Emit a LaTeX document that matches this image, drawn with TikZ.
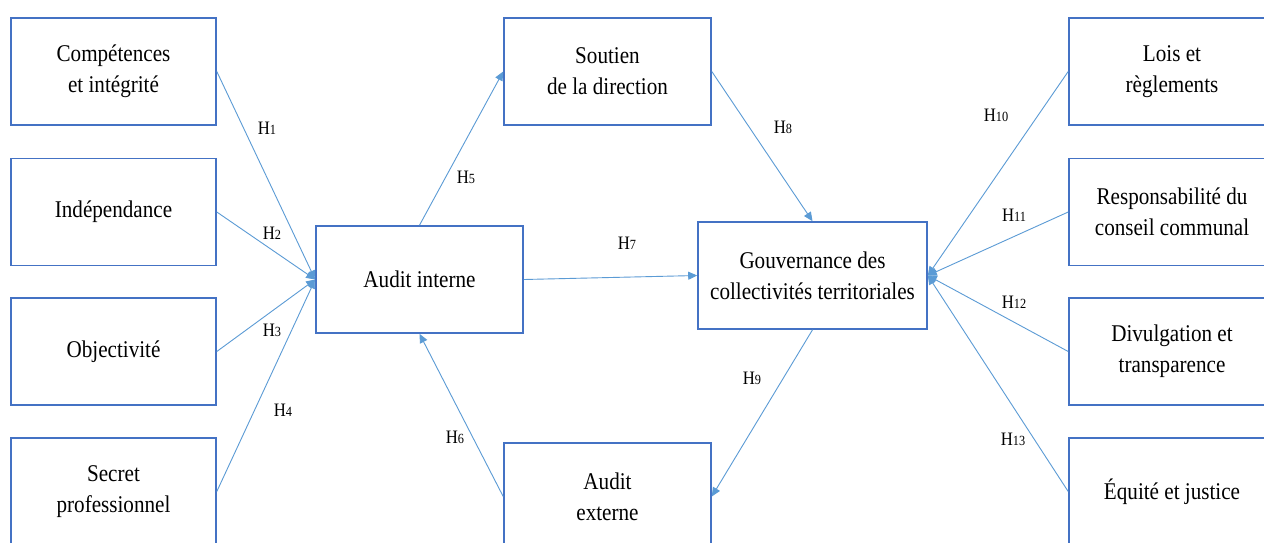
\documentclass[tikz,border=0pt]{standalone}
\usepackage{fontspec}
\setmainfont{Liberation Serif}[FakeStretch=0.88]
\usetikzlibrary{arrows.meta}
\definecolor{boxblue}{HTML}{4472C4}
\definecolor{lineblue}{HTML}{5B9BD5}
\newcommand{\hyp}[1]{H{\fontsize{14}{14}\selectfont #1}}
\tikzset{
  box/.style={draw=boxblue, line width=1.6pt, fill=white, rectangle, inner sep=0pt,
    align=center, font=\fontsize{24}{31}\selectfont},
  lbox/.style={box, minimum width=205pt, minimum height=107pt},
  mbox/.style={box, minimum width=207pt, minimum height=107pt},
  conn/.style={draw=lineblue, line width=0.9pt, -{Triangle[length=9pt,width=8pt]}},
  hlab/.style={inner sep=0pt, font=\fontsize{19}{19}\selectfont}
}
\begin{document}
\begin{tikzpicture}[x=1pt,y=-1pt]
\useasboundingbox (0,0) rectangle (1264,542);
\clip (0,0) rectangle (1264,542);
\fill[white] (0,0) rectangle (1264,542);
% left column
\node[lbox] (b1) at (113.5,71.5) {Compétences\\et intégrité};
\node[lbox] (b2) at (113.5,212) {Indépendance};
\node[lbox] (b3) at (113.5,351.5) {Objectivité};
\node[lbox] (b4) at (113.5,491.5) {Secret\\professionnel};
% middle
\node[mbox] (ai) at (419.5,279.5) {Audit interne};
\node[mbox] (sd) at (607.5,71.5) {Soutien\\de la direction};
\node[mbox] (ae) at (607.5,496.5) {Audit\\externe};
\node[box, minimum width=229pt, minimum height=107pt] (gv) at (812.5,275.5) {Gouvernance des\\collectivités territoriales};
% right column
\node[lbox, minimum width=206pt] (r1) at (1172,71.5) {Lois et\\règlements};
\node[lbox, minimum width=206pt] (r2) at (1172,212) {Responsabilité du\\conseil communal};
\node[lbox, minimum width=206pt] (r3) at (1172,351.5) {Divulgation et\\transparence};
\node[lbox, minimum width=206pt] (r4) at (1172,491.5) {Équité et justice};
% connectors
\draw[conn] (b1.east) -- (ai.west);
\draw[conn] (b2.east) -- (ai.west);
\draw[conn] (b3.east) -- (ai.west);
\draw[conn] (b4.east) -- (ai.west);
\draw[conn] (ai.north) -- (sd.west);
\draw[conn] (ae.west) -- (ai.south);
\draw[conn] (ai.east) -- (gv.west);
\draw[conn] (sd.east) -- (gv.north);
\draw[conn] (gv.south) -- (ae.east);
\draw[conn] (r1.west) -- (gv.east);
\draw[conn] (r2.west) -- (gv.east);
\draw[conn] (r3.west) -- (gv.east);
\draw[conn] (r4.west) -- (gv.east);
% labels
\node[hlab] (h1) at (267,128) {\hyp{1}};
\node[hlab] (h2) at (272,233) {\hyp{2}};
\node[hlab] (h3) at (272,330) {\hyp{3}};
\node[hlab] (h4) at (283,410) {\hyp{4}};
\node[hlab] (h5) at (466,177) {\hyp{5}};
\node[hlab] (h6) at (455,437) {\hyp{6}};
\node[hlab] (h7) at (627,243) {\hyp{7}};
\node[hlab] (h8) at (783,127) {\hyp{8}};
\node[hlab] (h9) at (752,378) {\hyp{9}};
\node[hlab] (h10) at (996,115) {\hyp{10}};
\node[hlab] (h11) at (1014,215) {\hyp{11}};
\node[hlab] (h12) at (1014,302) {\hyp{12}};
\node[hlab] (h13) at (1013,439) {\hyp{13}};
\end{tikzpicture}
\end{document}
